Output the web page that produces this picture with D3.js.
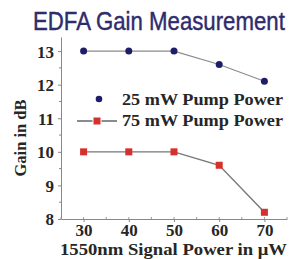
<!DOCTYPE html>
<html>
<head>
<meta charset="utf-8">
<script src="https://cdn.jsdelivr.net/npm/d3@7"></script>
<style>
  body { margin: 0; background: #fff; }
  svg { display: block; }
</style>
</head>
<body>
<svg width="294" height="259"></svg>
<script>
// data
var signalPower = [30, 40, 50, 60, 70];
var gain25 = [13, 13, 13, 12.6, 12.1];
var gain75 = [10, 10, 10, 9.6, 8.2];
var yTicks = [8, 9, 10, 11, 12, 13];
var seriesNames = ["25 mW Pump Power", "75 mW Pump Power"];

var svg = d3.select("svg");
var margin = { top: 37, right: 7, bottom: 40, left: 61 },
  width = +svg.attr("width") - margin.left - margin.right,
  height = +svg.attr("height") - margin.top - margin.bottom;

var x = d3.scaleLinear().domain([25, 75]).range([0, width]);
var y = d3.scaleLinear().domain([8, 13.42]).range([height, 0]);

var serif = "'Liberation Serif', 'DejaVu Serif', serif";
var ink = "#262626";

// title is a condensed face in the original, squeeze it to the same width
var title = svg.append("text")
  .attr("font-family", "'Liberation Sans', Arial, sans-serif")
  .attr("font-size", 25)
  .attr("fill", "#2e2c6c")
  .attr("stroke", "#2e2c6c")
  .attr("stroke-width", 0.4)
  .text("EDFA Gain Measurement");
var sx = 252 / title.node().getComputedTextLength();
title.attr("transform", "translate(33,30) scale(" + sx + ",1)");

var g = svg.append("g")
  .attr("transform", "translate(" + margin.left + "," + margin.top + ")");

// axes
var xAxis = g.append("g")
  .attr("transform", "translate(0," + height + ")")
  .call(d3.axisBottom(x).tickValues(signalPower).tickFormat(d3.format("d"))
    .tickSize(3).tickSizeOuter(0));
var yAxis = g.append("g")
  .call(d3.axisLeft(y).tickValues(yTicks).tickFormat(d3.format("d"))
    .tickSize(3).tickSizeOuter(0));

// minor ticks
g.append("g").selectAll("line")
  .data(d3.range(8.5, 13.5, 1))
  .enter().append("line")
  .attr("x1", -2).attr("x2", 0)
  .attr("y1", function (d) { return y(d); })
  .attr("y2", function (d) { return y(d); })
  .attr("stroke", "#888");
g.append("g").selectAll("line")
  .data(d3.range(25, 76, 5))
  .enter().append("line")
  .attr("x1", function (d) { return x(d); })
  .attr("x2", function (d) { return x(d); })
  .attr("y1", height - 2).attr("y2", height)
  .attr("stroke", "#999");

[xAxis, yAxis].forEach(function (a) {
  a.select(".domain").attr("stroke", "#888");
  a.selectAll(".tick line").attr("stroke", "#888");
  a.selectAll("text")
    .attr("font-family", serif)
    .attr("font-weight", "bold")
    .attr("font-size", 17)
    .attr("fill", ink);
});
xAxis.selectAll("text").attr("y", 0).attr("dy", 17);
yAxis.selectAll("text").attr("x", -7).attr("dy", "0.35em");

// lines
var line = d3.line()
  .x(function (d) { return x(d[0]); })
  .y(function (d) { return y(d[1]); });

g.append("path")
  .datum(d3.zip(signalPower, gain25))
  .attr("fill", "none")
  .attr("stroke", "#8a8a8a")
  .attr("stroke-width", 1.1)
  .attr("d", line);

g.append("path")
  .datum(d3.zip(signalPower, gain75))
  .attr("fill", "none")
  .attr("stroke", "#777")
  .attr("stroke-width", 1.4)
  .attr("d", line);

g.selectAll(".dot")
  .data(d3.zip(signalPower, gain25))
  .enter().append("circle")
  .attr("class", "dot")
  .attr("cx", function (d) { return x(d[0]); })
  .attr("cy", function (d) { return y(d[1]); })
  .attr("r", 3.5)
  .attr("fill", "#1e1d6a");

g.selectAll(".sq")
  .data(d3.zip(signalPower, gain75))
  .enter().append("rect")
  .attr("class", "sq")
  .attr("x", function (d) { return x(d[0]) - 3.5; })
  .attr("y", function (d) { return y(d[1]) - 3.5; })
  .attr("width", 7)
  .attr("height", 7)
  .attr("fill", "#d5302c");

// legend
var leg = svg.append("g");
leg.append("circle").attr("cx", 99).attr("cy", 99).attr("r", 3.3).attr("fill", "#1e1d6a");
leg.append("line").attr("x1", 77).attr("x2", 117).attr("y1", 121).attr("y2", 121)
  .attr("stroke", "#666").attr("stroke-width", 1.3);
leg.append("rect").attr("x", 92.5).attr("y", 117.5).attr("width", 9).attr("height", 7)
  .attr("fill", "#fff");
leg.append("rect").attr("x", 93.5).attr("y", 117.5).attr("width", 7).attr("height", 7)
  .attr("fill", "#d5302c");
leg.selectAll("text")
  .data(seriesNames)
  .enter().append("text")
  .attr("x", 122)
  .attr("y", function (d, i) { return 105 + i * 21; })
  .attr("textLength", 161)
  .attr("lengthAdjust", "spacingAndGlyphs")
  .attr("font-family", serif)
  .attr("font-weight", "bold")
  .attr("font-size", 16.5)
  .attr("fill", ink)
  .text(function (d) { return d; });

// axis titles
svg.append("text")
  .attr("transform", "translate(26,138) rotate(-90)")
  .attr("text-anchor", "middle")
  .attr("textLength", 77)
  .attr("lengthAdjust", "spacingAndGlyphs")
  .attr("font-family", serif)
  .attr("font-weight", "bold")
  .attr("font-size", 17)
  .attr("fill", ink)
  .text("Gain in dB");

svg.append("text")
  .attr("x", 60)
  .attr("y", 255)
  .attr("textLength", 227)
  .attr("lengthAdjust", "spacingAndGlyphs")
  .attr("font-family", serif)
  .attr("font-weight", "bold")
  .attr("font-size", 17)
  .attr("fill", ink)
  .text("1550nm Signal Power in \u03bcW");
</script>
</body>
</html>
